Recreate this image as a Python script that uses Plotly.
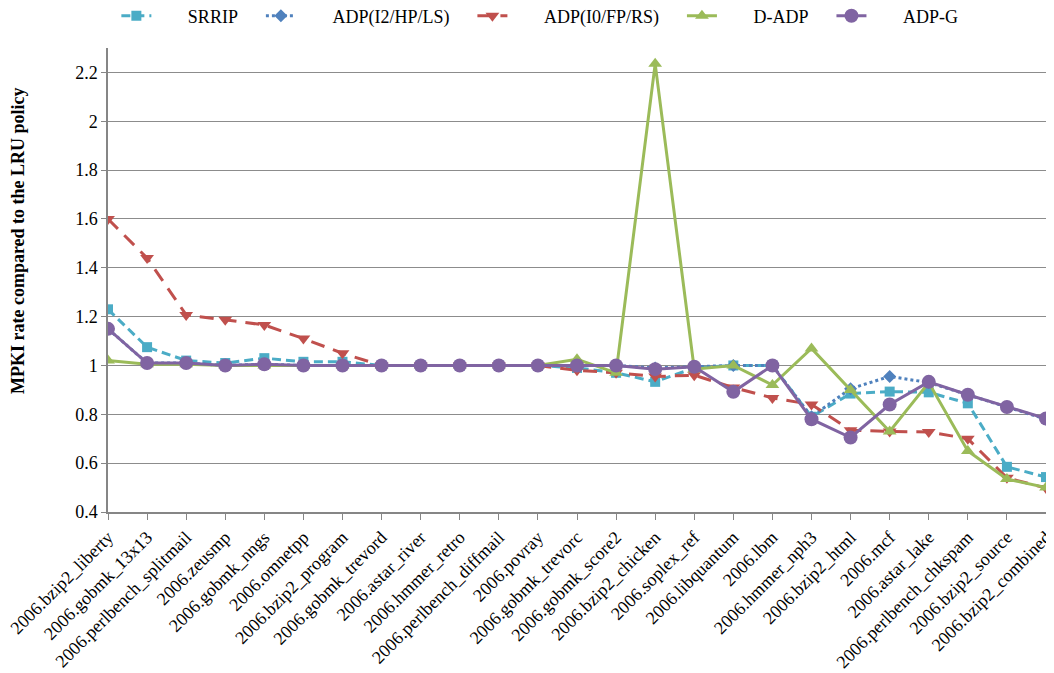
import plotly.graph_objects as go

categories = ["2006.bzip2_liberty", "2006.gobmk_13x13", "2006.perlbench_splitmail", "2006.zeusmp",
              "2006.gobmk_nngs", "2006.omnetpp", "2006.bzip2_program", "2006.gobmk_trevord",
              "2006.astar_river", "2006.hmmer_retro", "2006.perlbench_diffmail", "2006.povray",
              "2006.gobmk_trevorc", "2006.gobmk_score2", "2006.bzip2_chicken", "2006.soplex_ref",
              "2006.libquantum", "2006.lbm", "2006.hmmer_nph3", "2006.bzip2_html", "2006.mcf",
              "2006.astar_lake", "2006.perlbench_chkspam", "2006.bzip2_source", "2006.bzip2_combined"]

srrip = [1.23, 1.075, 1.02, 1.01, 1.03, 1.015, 1.015, 1.0, 1.0, 1.0, 1.0, 1.0, 0.99, 0.97,
         0.933, 0.99, 1.0, 1.0, 0.79, 0.885, 0.893, 0.89, 0.845, 0.585, 0.543]
adp_i2 = [1.15, 1.01, 1.01, 1.0, 1.005, 1.0, 1.0, 1.0, 1.0, 1.0, 1.0, 1.0, 1.0, 1.0,
          0.99, 0.995, 1.0, 1.0, 0.79, 0.905, 0.955, 0.93, 0.88, 0.83, 0.78]
adp_i0 = [1.60, 1.44, 1.207, 1.187, 1.166, 1.11, 1.05, 1.0, 1.0, 1.0, 1.0, 1.0, 0.98, 0.97,
          0.955, 0.96, 0.91, 0.867, 0.84, 0.735, 0.73, 0.728, 0.70, 0.54, 0.498]
d_adp = [1.02, 1.005, 1.005, 1.0, 1.0, 1.0, 1.0, 1.0, 1.0, 1.0, 1.0, 1.0, 1.025, 0.97,
         2.235, 0.985, 1.0, 0.92, 1.07, 0.90, 0.73, 0.93, 0.65, 0.535, 0.50]
adp_g = [1.15, 1.01, 1.01, 1.0, 1.005, 1.0, 1.0, 1.0, 1.0, 1.0, 1.0, 1.0, 1.0, 1.0,
         0.985, 0.995, 0.892, 1.0, 0.78, 0.705, 0.84, 0.933, 0.88, 0.83, 0.783]

series_names = ["SRRIP", "ADP(I2/HP/LS)", "ADP(I0/FP/RS)", "D-ADP", "ADP-G"]

y_ticks = [0.4, 0.6, 0.8, 1.0, 1.2, 1.4, 1.6, 1.8, 2.0, 2.2]
y_tick_text = ["0.4", "0.6", "0.8", "1", "1.2", "1.4", "1.6", "1.8", "2", "2.2"]

font_family = "Liberation Serif"
lead = "\u00a0" * 7
trail = "\u00a0" * 4


def legend_name(s):
    return lead + s + trail


fig = go.Figure()
fig.add_trace(go.Scatter(x=categories, y=srrip, name=legend_name(series_names[0]), mode="lines+markers",
                         line=dict(color="#4BACC6", width=3, dash="9px,5px"),
                         marker=dict(symbol="square", size=10, color="#4BACC6")))
fig.add_trace(go.Scatter(x=categories, y=adp_i2, name=legend_name(series_names[1]), mode="lines+markers",
                         line=dict(color="#4F81BD", width=3, dash="3px,3px"),
                         marker=dict(symbol="diamond", size=10, color="#4F81BD")))
fig.add_trace(go.Scatter(x=categories, y=adp_i0, name=legend_name(series_names[2]), mode="lines+markers",
                         line=dict(color="#C0504D", width=3, dash="14px,9px"),
                         marker=dict(symbol="triangle-down", size=12, color="#C0504D")))
fig.add_trace(go.Scatter(x=categories, y=d_adp, name=legend_name(series_names[3]), mode="lines+markers",
                         line=dict(color="#9BBB59", width=3),
                         marker=dict(symbol="triangle-up", size=12, color="#9BBB59")))
fig.add_trace(go.Scatter(x=categories, y=adp_g, name=legend_name(series_names[4]), mode="lines+markers",
                         line=dict(color="#8064A2", width=3),
                         marker=dict(symbol="circle", size=14, color="#8064A2")))

# page body has an 8px margin, so the figure is drawn 8px smaller and offset
fig.update_layout(
    width=1046, height=665,
    margin=dict(l=100, r=8, t=40, b=161, autoexpand=False),
    paper_bgcolor="white", plot_bgcolor="white",
    font=dict(family=font_family, size=18, color="black"),
    legend=dict(orientation="h", x=0.47, xanchor="center", y=1.069, yanchor="middle",
                font=dict(size=18), bgcolor="rgba(0,0,0,0)"),
    showlegend=True,
    annotations=[dict(text="<b>MPKI rate compared to the LRU policy</b>", textangle=-90,
                      xref="paper", yref="paper", x=-0.096, y=0.586, xanchor="center",
                      yanchor="middle", showarrow=False,
                      font=dict(size=18, family=font_family))],
)
fig.update_xaxes(type="category", range=[0, len(categories) - 1], tickangle=-45,
                 automargin=False,
                 showline=True, linecolor="#868686", linewidth=1.5,
                 ticks="outside", ticklen=6, tickcolor="#868686",
                 showgrid=False, tickfont=dict(size=18, family=font_family))
fig.update_yaxes(range=[0.4, 2.3], tickvals=y_ticks, ticktext=y_tick_text,
                 automargin=False,
                 showline=True, linecolor="#868686", linewidth=1.5,
                 ticks="outside", ticklen=5, tickcolor="#868686",
                 showgrid=True, gridcolor="#8c8c8c", gridwidth=1, zeroline=False,
                 tickfont=dict(size=18, family=font_family))

fig.write_html("out.html")
